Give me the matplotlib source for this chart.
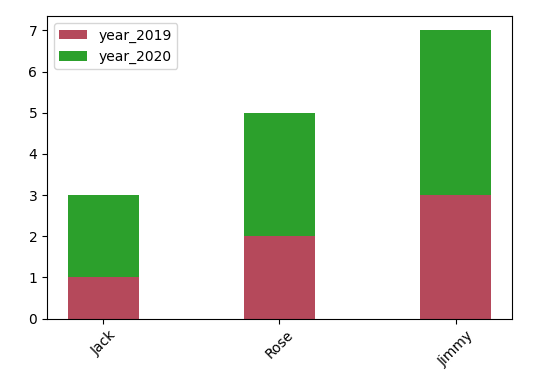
import matplotlib
matplotlib.use('Agg')
import matplotlib.pyplot as plt
import numpy as np

names = ['Jack', 'Rose', 'Jimmy']
year_2019 = [1, 2, 3]
year_2020 = [2, 3, 4]

x = np.arange(len(names))
width = 0.4

fig, ax = plt.subplots(figsize=(5.42, 3.78), dpi=100)
ax.bar(x, year_2019, width, color='#b5495b', label='year_2019')
ax.bar(x, year_2020, width, bottom=year_2019, color='#2ca02c', label='year_2020')
ax.set_xticks(x)
ax.set_xticklabels(names, rotation=45)
ax.legend(loc='upper left')
fig.subplots_adjust(left=0.0867, right=0.9446, top=0.9577, bottom=0.1574)
fig.savefig('out.png', dpi=100)
